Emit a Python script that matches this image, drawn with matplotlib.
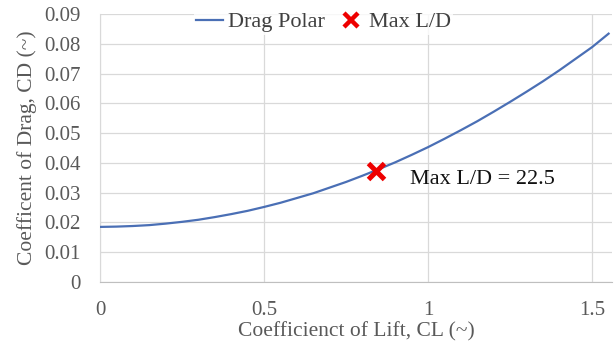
import matplotlib
matplotlib.use("Agg")
import matplotlib.pyplot as plt
from matplotlib.lines import Line2D

# Drag polar read at regular lift coefficients
cl_values = [0.0, 0.05, 0.1, 0.15, 0.2, 0.25, 0.3, 0.35, 0.4, 0.45, 0.5,
             0.55, 0.6, 0.65, 0.7, 0.75, 0.8, 0.85, 0.9, 0.95, 1.0,
             1.05, 1.1, 1.15, 1.2, 1.25, 1.3, 1.35, 1.4, 1.45, 1.5, 1.55]
cd_values = [0.0185, 0.0186, 0.0188, 0.0191, 0.0196, 0.0202, 0.0209,
             0.0218, 0.0228, 0.0239, 0.0252, 0.0266, 0.0282, 0.0298,
             0.0317, 0.0336, 0.0357, 0.0379, 0.0402, 0.0427, 0.0453,
             0.0481, 0.0510, 0.0540, 0.0572, 0.0605, 0.0639, 0.0674,
             0.0711, 0.0750, 0.0789, 0.0834]

# Point of maximum lift-to-drag ratio
max_ld_cl = 0.84
max_ld_cd = 0.0373

x_ticks = [0, 0.5, 1, 1.5]
x_tick_labels = ["0", "0.5", "1", "1.5"]
y_ticks = [0, 0.01, 0.02, 0.03, 0.04, 0.05, 0.06, 0.07, 0.08, 0.09]
y_tick_labels = ["0", "0.01", "0.02", "0.03", "0.04", "0.05", "0.06",
                 "0.07", "0.08", "0.09"]

plt.rcParams["font.family"] = ["Liberation Serif", "DejaVu Serif"]

fig = plt.figure(figsize=(6.16, 3.5), dpi=100)
ax = fig.add_axes([0.1623, 0.1943, 0.831, 0.7657])

line_color = "#4a6fb5"
ax.plot(cl_values, cd_values, color=line_color, lw=1.6, zorder=3)
ax.plot([max_ld_cl], [max_ld_cd], marker="x", color="#ee0000",
        markersize=12, mew=3.6, linestyle="none", zorder=4)

ratio = max_ld_cl / max_ld_cd
ax.annotate(f"Max L/D = {ratio:.1f}", xy=(max_ld_cl, max_ld_cd),
            xytext=(25, -6), textcoords="offset points",
            fontsize=16, color="#111111", va="center", ha="left")

ax.set_xlim(0, 1.56)
ax.set_ylim(0, 0.09)
ax.set_xticks(x_ticks)
ax.set_xticklabels(x_tick_labels)
ax.set_yticks(y_ticks)
ax.set_yticklabels(y_tick_labels)
ax.tick_params(axis="both", length=0, labelsize=15, colors="#595959")
ax.tick_params(axis="x", pad=14)
ax.tick_params(axis="y", pad=14)

ax.grid(True, color="#d9d9d9", lw=0.9)
ax.set_axisbelow(True)
for side in ["top", "right"]:
    ax.spines[side].set_visible(False)
ax.spines["left"].set_color("#d9d9d9")
ax.spines["bottom"].set_color("#bfbfbf")

ax.set_xlabel("Coefficienct of Lift, CL (~)", fontsize=15.5, color="#595959",
              labelpad=1)
ax.set_ylabel("Coefficent of Drag, CD (~)", fontsize=15.5, color="#595959",
              labelpad=5)

handles = [
    Line2D([0], [0], color=line_color, lw=1.6),
    Line2D([0], [0], marker="x", color="#ee0000", markersize=10, mew=3.2,
           linestyle="none"),
]
leg = ax.legend(handles, ["Drag Polar", "Max L/D"], loc="center",
                bbox_to_anchor=(0.437, 0.97), ncol=2, frameon=True,
                facecolor="white", edgecolor="none", fontsize=16,
                handlelength=1.2, handletextpad=0.2, columnspacing=0.6,
                borderpad=0.1)
for t in leg.get_texts():
    t.set_color("#404040")

fig.savefig("out.png", dpi=100)
